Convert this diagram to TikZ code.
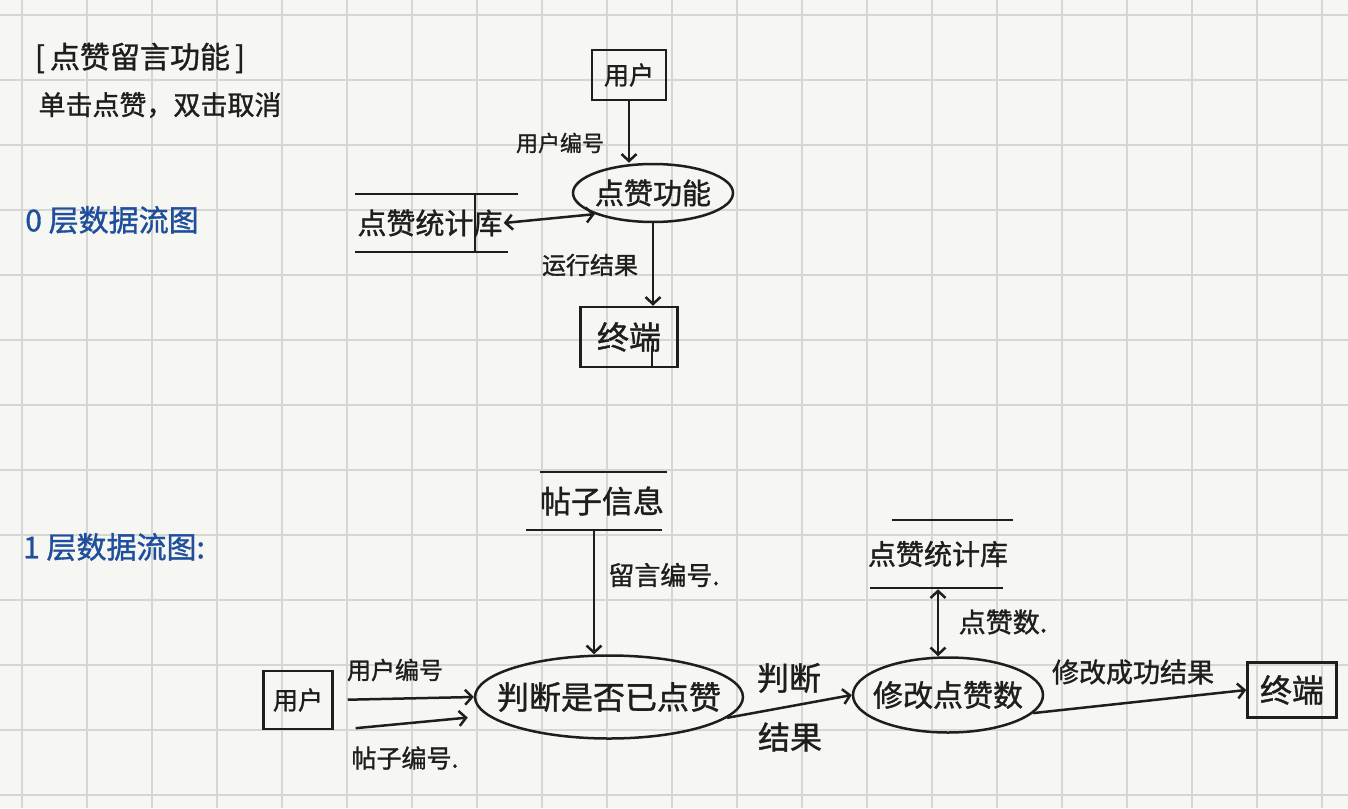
\documentclass[tikz,border=0pt]{standalone}
\usepackage{fontspec}
\newfontfamily\cjk[FakeBold=1.2]{Noto Sans CJK SC}
\usetikzlibrary{shapes.geometric, arrows.meta}
\definecolor{paper}{HTML}{F6F6F2}
\definecolor{gridc}{HTML}{D6D6D2}
\definecolor{ink}{HTML}{1E1E1E}
\definecolor{pen}{HTML}{1F4F9C}
\tikzset{
  txt/.style={font=\cjk\fontsize{#1}{#1}\selectfont, inner sep=0pt},
  txt/.default=28,
  ent/.style={draw, rectangle, inner sep=0pt},
  proc/.style={draw, ellipse, inner sep=0pt},
  store/.style={inner sep=0pt},
}
\begin{document}
\begin{tikzpicture}[x=1pt, y=-1pt, line width=2.5pt, color=ink,
    >={Straight Barb[length=7pt, width=15pt]}]
    % paper with grid
    \fill[paper] (0,0) rectangle (1348,808);
    \useasboundingbox (0,0) rectangle (1348,808);
    \foreach \gx in {0,...,20}
        \draw[gridc, line width=2pt] (22+65*\gx,0) -- (22+65*\gx,808);
    \foreach \gy in {0,...,12}
        \draw[gridc, line width=2pt] (0,15+65*\gy) -- (1348,15+65*\gy);
    % Heading
    \node[txt=30] (title) at (140,58) {[\,点赞留言功能\,]};
    \node[txt=27] (rule) at (160,105) {单击点赞，双击取消};
    \node[txt=30, pen] (lvl0) at (112,220) {0 层数据流图};
    \node[txt=30, pen] (lvl1) at (114,547) {1 层数据流图:};
    % Level 0
    \node[ent, minimum width=74, minimum height=50, txt=25] (user0) at (629,75) {用户};
    \node[proc, minimum width=160, minimum height=58, label={[txt=29]center:点赞功能}] (likefn) at (653,193) {};
    \node[store, minimum height=58, txt=29] (store0) at (430,223) {点赞统计库};
    \draw (355,194) -- (518,194);
    \draw (355,252) -- (508,252);
    \draw (475,194) -- (475,252);
    \node[ent, minimum width=97, minimum height=60, txt=32] (term0) at (629,337) {终端};
    \draw ([xshift=23pt]term0.south) -- ++(0,-22);
    \draw[->] (user0.south) -- (user0.south |- likefn.north);
    \node[txt=22] (uid0) at (560,143) {用户编号};
    \draw[<->] (store0.east) -- (likefn.200);
    \draw[->] (likefn.south) -- (likefn.south |- term0.north);
    \node[txt=24] (res0) at (590,265) {运行结果};
    % Level 1
    \node[ent, minimum width=69, minimum height=58, txt=25] (user1) at (298,700) {用户};
    \node[store, minimum height=58, txt=31] (post) at (602,501) {帖子信息};
    \draw (540,472) -- (667,472);
    \draw (526,530) -- (662,530);
    \node[proc, minimum width=268, minimum height=83, label={[txt=32]center:判断是否已点赞}] (judge) at (609,697) {};
    \node[store, minimum height=68, txt=28] (store1) at (938,554) {点赞统计库};
    \draw (892,520) -- (1013,520);
    \draw (870,588) -- (1003,588);
    \node[proc, minimum width=190, minimum height=75, label={[txt=30]center:修改点赞数}] (modify) at (948,695) {};
    \node[ent, minimum width=89, minimum height=55, txt=32] (term1) at (1292,690) {终端};
    % flows
    \draw[->, shorten <=14pt] (user1.east) -- (judge.west);
    \node[txt=24] (uid1) at (395,670) {用户编号};
    \draw[->, shorten <=22pt, shorten >=6pt] (user1.south east) -- ([yshift=-20pt]judge.west);
    \node[txt=25] (pid1) at (405,758) {帖子编号.};
    \draw[->] ([xshift=-8pt]post.south) -- ([xshift=-8pt]post.south |- judge.north);
    \node[txt=26] (mid1) at (664,575) {留言编号.};
    \draw[->] (judge.-10) -- (modify.west);
    \node[txt=32] (jres1) at (789,678) {判断};
    \node[txt=32] (jres2) at (790,737) {结果};
    \draw[<->] (store1.south) -- (store1.south |- modify.north);
    \node[txt=27] (cnt1) at (1003,622) {点赞数.};
    \draw[->] (modify.-12) -- (term1.west);
    \node[txt=27] (ok1) at (1133,672) {修改成功结果};
\end{tikzpicture}
\end{document}
